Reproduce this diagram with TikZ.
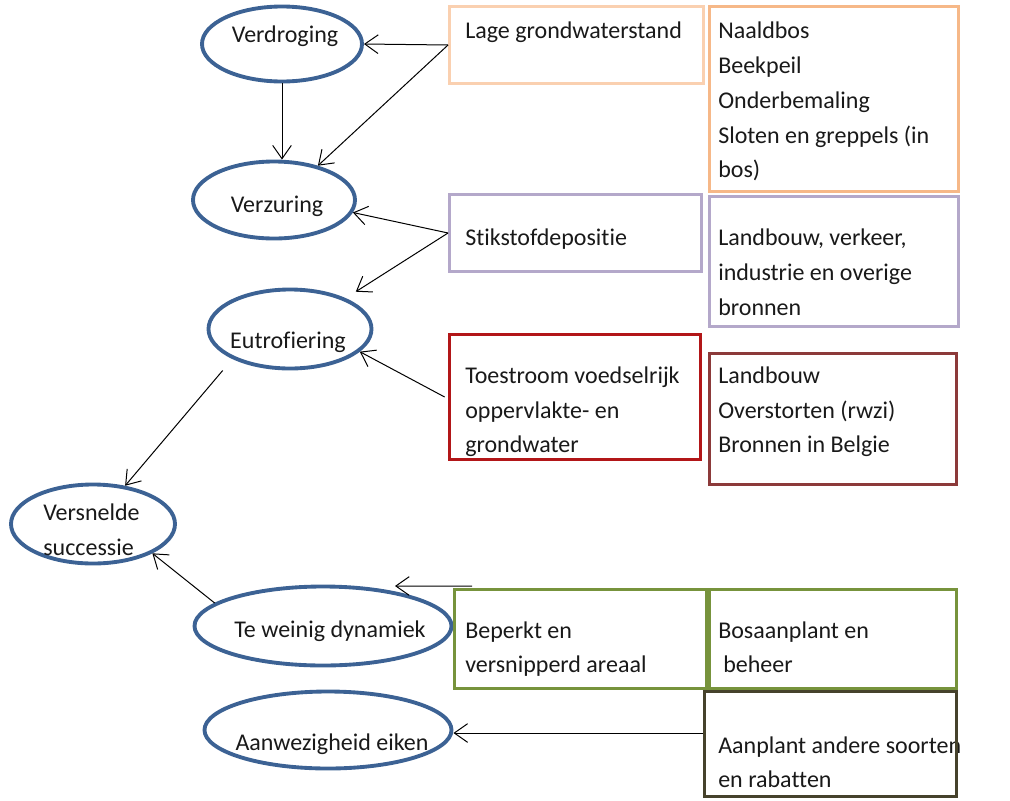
\documentclass[tikz,border=0pt]{standalone}
\usepackage{fontspec}
\setmainfont{Carlito}[Ligatures=NoCommon]
\usetikzlibrary{arrows.meta,calc,shapes.geometric}
\definecolor{ellblue}{RGB}{60,98,148}
\definecolor{orlight}{RGB}{250,208,176}
\definecolor{ormid}{RGB}{246,184,136}
\definecolor{purp}{RGB}{180,168,202}
\definecolor{redd}{RGB}{178,22,24}
\definecolor{brownr}{RGB}{140,58,58}
\definecolor{grn}{RGB}{119,147,60}
\definecolor{olive}{RGB}{70,66,44}
\begin{document}
\begin{tikzpicture}[x=0.75pt,y=-0.75pt,
  ell/.style 2 args={ellipse, draw=ellblue, line width=2.9pt, inner sep=0pt,
     minimum width=#1*0.75pt, minimum height=#2*0.75pt},
  bx/.style 2 args={rectangle, line width=2.2pt, inner sep=0pt,
     minimum width=#1*0.75pt, minimum height=#2*0.75pt},
  txt/.style={font=\fontsize{18pt}{22pt}\selectfont, inner sep=0pt, anchor=base west, text=black!90},
  ctxt/.style={txt, anchor=base},
  arr/.style={draw=black, line width=0.75pt, -{Straight Barb[length=10pt,width=14pt,line width=0.75pt]}}
]
\useasboundingbox (0,0) rectangle (1010,800);

% ellipses
\node[ell={160}{75}] (verd) at (282,44) {};
\node[ell={162}{77}] (verz) at (274,200) {};
\node[ell={163}{79}] (eutro) at (290,329) {};
\node[ell={164}{79}] (vers) at (93,524) {};
\node[ell={257}{79}] (tew) at (323,626) {};
\node[ell={247}{77}] (aan) at (328,730) {};

% ellipse texts
\node[ctxt] (tverd) at (285,42) {Verdroging};
\node[ctxt] (tverz) at (277,212) {Verzuring};
\node[ctxt] (teutro) at (288,348) {Eutrofiering};
\node[txt] (tvers1) at (43,520) {Versnelde};
\node[txt] (tvers2) at (43,555) {successie};
\node[ctxt] (ttew) at (330,637) {Te weinig dynamiek};
\node[ctxt] (taan) at (332,750) {Aanwezigheid eiken};

% box texts
\node[txt] (l1) at (465,38) {Lage grondwaterstand};
\node[txt] (n1) at (718,38) {Naaldbos};
\node[txt] (n2) at (718,73) {Beekpeil};
\node[txt] (n3) at (718,108) {Onderbemaling};
\node[txt] (n4) at (718,143) {Sloten en greppels (in};
\node[txt] (n5) at (718,177) {bos)};
\node[txt] (s1) at (465,245) {Stikstofdepositie};
\node[txt] (v1) at (718,245) {Landbouw, verkeer,};
\node[txt] (v2) at (718,280) {industrie en overige};
\node[txt] (v3) at (718,315) {bronnen};
\node[txt] (o1) at (465,383) {Toestroom voedselrijk};
\node[txt] (o2) at (465,418) {oppervlakte- en};
\node[txt] (o3) at (465,452) {grondwater};
\node[txt] (b1) at (718,383) {Landbouw};
\node[txt] (b2) at (718,418) {Overstorten (rwzi)};
\node[txt] (b3) at (718,452) {Bronnen in Belgie};
\node[txt] (p1) at (465,638) {Beperkt en};
\node[txt] (p2) at (465,672) {versnipperd areaal};
\node[txt] (q1) at (718,638) {Bosaanplant en};
\node[txt] (q2) at (723,672) {beheer};
\node[txt] (r1) at (718,753) {Aanplant andere soorten};
\node[txt] (r2) at (718,787) {en rabatten};

% boxes
\node[bx={254}{77}, draw=orlight] (lage) at (576.5,45) {};
\node[bx={249}{185}, draw=ormid] (naald) at (834,99) {};
\node[bx={252}{77}, draw=purp] (stik) at (575.5,233) {};
\node[bx={249}{130}, draw=purp] (lvib) at (834,261.5) {};
\node[bx={251}{125}, draw=redd, line width=2.8pt] (toe) at (575,397) {};
\node[bx={247}{131}, draw=brownr] (lob) at (833,419) {};
\node[bx={252}{99}, draw=grn] (bep) at (580.5,639) {};
\node[bx={247}{99}, draw=grn] (bos) at (833,639) {};
\node[bx={252}{105}, draw=olive] (anp) at (830.5,744) {};

% connectors
\draw[arr] (lage.west) -- (verd.east);
\draw[arr] (lage.west) -- (verz.38);
\draw[arr] (verd.south) -- (verd.south |- verz.north);
\draw[arr] (stik.west) -- (verz.-9);
\draw[arr, shorten >=9pt] (stik.west) -- (eutro.29);
\draw[arr] ($(toe.west)+(-3,0)$) -- (eutro.-18);
\draw[arr] ($(eutro.200)+(0,17)$) -- (vers.50);
\draw[arr] (tew.168) -- (vers.south east);
\coordinate (bstart) at ($(bep.north west)+(19,-2)$);
\draw[arr] (bstart) -- ($(tew.center)+(72,-40)$);
\coordinate (astart) at ($(anp.west)+(0,-11)$);
\draw[arr] (astart) -- (astart -| aan.east);
\end{tikzpicture}
\end{document}
